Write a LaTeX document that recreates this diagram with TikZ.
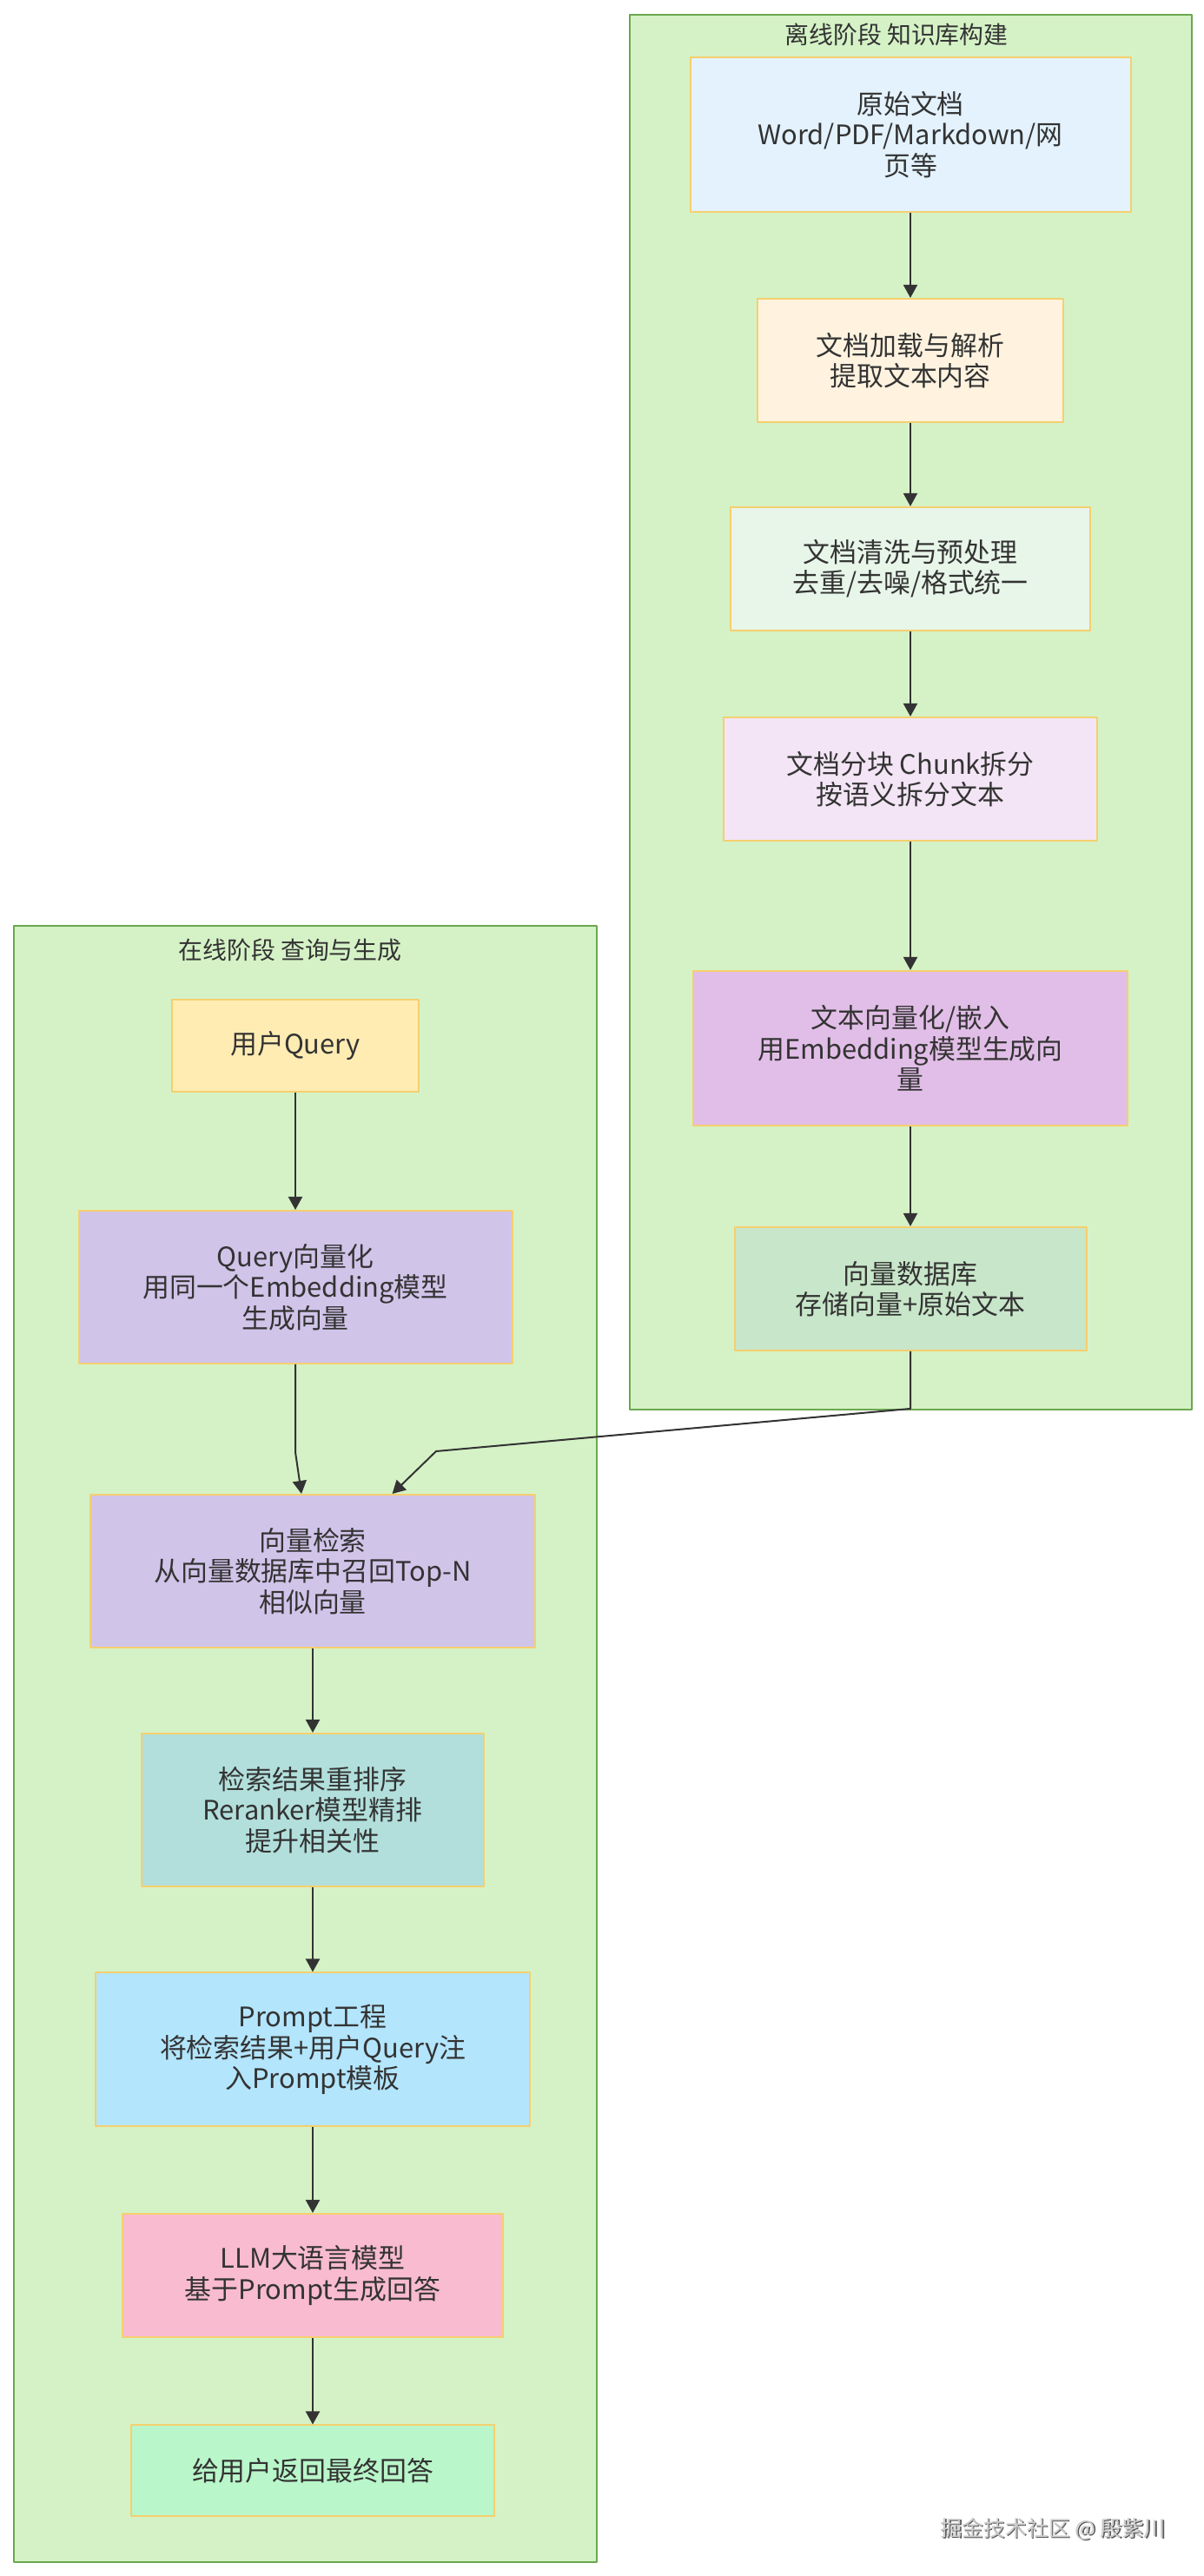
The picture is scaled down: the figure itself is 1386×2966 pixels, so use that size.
\documentclass[tikz,border=0pt]{standalone}
\usepackage{fontspec}
\setmainfont{Noto Sans CJK SC}
\usetikzlibrary{arrows.meta}
\definecolor{stagefill}{HTML}{D5F2C6}
\definecolor{stageline}{HTML}{6AA84F}
\definecolor{boxline}{HTML}{F5CF6E}
\definecolor{textcol}{HTML}{333333}
\definecolor{edgecol}{HTML}{333333}
\definecolor{wmcol}{HTML}{A8A8A8}
\definecolor{docfill}{HTML}{E3F2FD}
\definecolor{loadfill}{HTML}{FFF3E0}
\definecolor{cleanfill}{HTML}{E8F5E9}
\definecolor{chunkfill}{HTML}{F3E5F5}
\definecolor{embedfill}{HTML}{E1BEE7}
\definecolor{vdbfill}{HTML}{C8E6C9}
\definecolor{queryfill}{HTML}{FFECB3}
\definecolor{vecfill}{HTML}{D1C4E9}
\definecolor{rerankfill}{HTML}{B2DFDB}
\definecolor{promptfill}{HTML}{B3E5FC}
\definecolor{llmfill}{HTML}{F8BBD0}
\definecolor{answerfill}{HTML}{B9F6CA}
\tikzset{
  stage/.style={draw=stageline,fill=stagefill,line width=2bp},
  stagetitle/.style={text=textcol,font=\fontsize{28}{32}\selectfont,inner sep=0pt},
  box/.style={draw=boxline,line width=2bp,rectangle,align=center,text=textcol,
    font=\fontsize{31}{35.5}\selectfont,inner sep=0pt},
  flow/.style={->,draw=edgecol,line width=2bp},
}
\begin{document}
\begin{tikzpicture}[>={Triangle[length=15bp,width=16bp]},line join=bevel,]
\useasboundingbox [fill=white] (0bp,0bp) rectangle (1386bp,2966bp);
%% clusters
\draw [stage] (725bp,1343bp) rectangle (1372bp,2949bp);
  \draw [stage] (16bp,16bp) rectangle (687bp,1900bp);
  \node (offtitle) at (1032bp,2926bp) [stagetitle] {离线阶段 知识库构建};
  \node (ontitle) at (334bp,1872bp) [stagetitle] {在线阶段 查询与生成};
%% offline
\node (doc) at (1048bp,2811bp) [box,fill=docfill,minimum width=507bp,minimum height=178bp] {原始文档\\Word/PDF/Markdown/网\\页等};
  \node (load) at (1048bp,2551bp) [box,fill=loadfill,minimum width=352bp,minimum height=142bp] {文档加载与解析\\提取文本内容};
  \node (clean) at (1048bp,2311bp) [box,fill=cleanfill,minimum width=414bp,minimum height=142bp] {文档清洗与预处理\\去重/去噪/格式统一};
  \node (chunk) at (1048bp,2069bp) [box,fill=chunkfill,minimum width=430bp,minimum height=142bp] {文档分块 Chunk拆分\\按语义拆分文本};
  \node (embed) at (1048bp,1759bp) [box,fill=embedfill,minimum width=500bp,minimum height=178bp] {文本向量化/嵌入\\用Embedding模型生成向\\量};
  \node (vdb) at (1048bp,1482bp) [box,fill=vdbfill,minimum width=405bp,minimum height=142bp] {向量数据库\\存储向量+原始文本};
%% online
\node (query) at (340bp,1762bp) [box,fill=queryfill,minimum width=284bp,minimum height=106bp] {用户Query};
  \node (qvec) at (340bp,1484bp) [box,fill=vecfill,minimum width=499bp,minimum height=176bp] {Query向量化\\用同一个Embedding模型\\生成向量};
  \node (search) at (360bp,1157bp) [box,fill=vecfill,minimum width=512bp,minimum height=176bp] {向量检索\\从向量数据库中召回Top-N\\相似向量};
  \node (rerank) at (360bp,882bp) [box,fill=rerankfill,minimum width=394bp,minimum height=176bp] {检索结果重排序\\Reranker模型精排\\提升相关性};
  \node (prompt) at (360bp,606bp) [box,fill=promptfill,minimum width=500bp,minimum height=177bp] {Prompt工程\\将检索结果+用户Query注\\入Prompt模板};
  \node (llm) at (360bp,346bp) [box,fill=llmfill,minimum width=438bp,minimum height=142bp] {LLM大语言模型\\基于Prompt生成回答};
  \node (answer) at (360bp,121bp) [box,fill=answerfill,minimum width=418bp,minimum height=105bp] {给用户返回最终回答};
%% edges
\coordinate (k1) at (1048bp,1344bp);
  \coordinate (k2) at (502bp,1295bp);
  \coordinate (k3) at (340bp,1294bp);
  \draw [flow] (doc) -- (load);
  \draw [flow] (load) -- (clean);
  \draw [flow] (clean) -- (chunk);
  \draw [flow] (chunk) -- (embed);
  \draw [flow] (embed) -- (vdb);
  \draw [flow] (vdb) -- (k1) -- (k2) -- (search);
  \draw [flow] (query) -- (qvec);
  \draw [flow] (qvec) -- (k3) -- (search);
  \draw [flow] (search) -- (rerank);
  \draw [flow] (rerank) -- (prompt);
  \draw [flow] (prompt) -- (llm);
  \draw [flow] (llm) -- (answer);
%% watermark
\node (wmshade) at (1213.5bp,52.5bp) [text=gray!70!black,font=\fontsize{25}{29}\selectfont] {掘金技术社区 @ 殷紫川};
  \node (wm) at (1212bp,54bp) [text=wmcol!60!white,font=\fontsize{25}{29}\selectfont] {掘金技术社区 @ 殷紫川};
%
\end{tikzpicture}
\end{document}
